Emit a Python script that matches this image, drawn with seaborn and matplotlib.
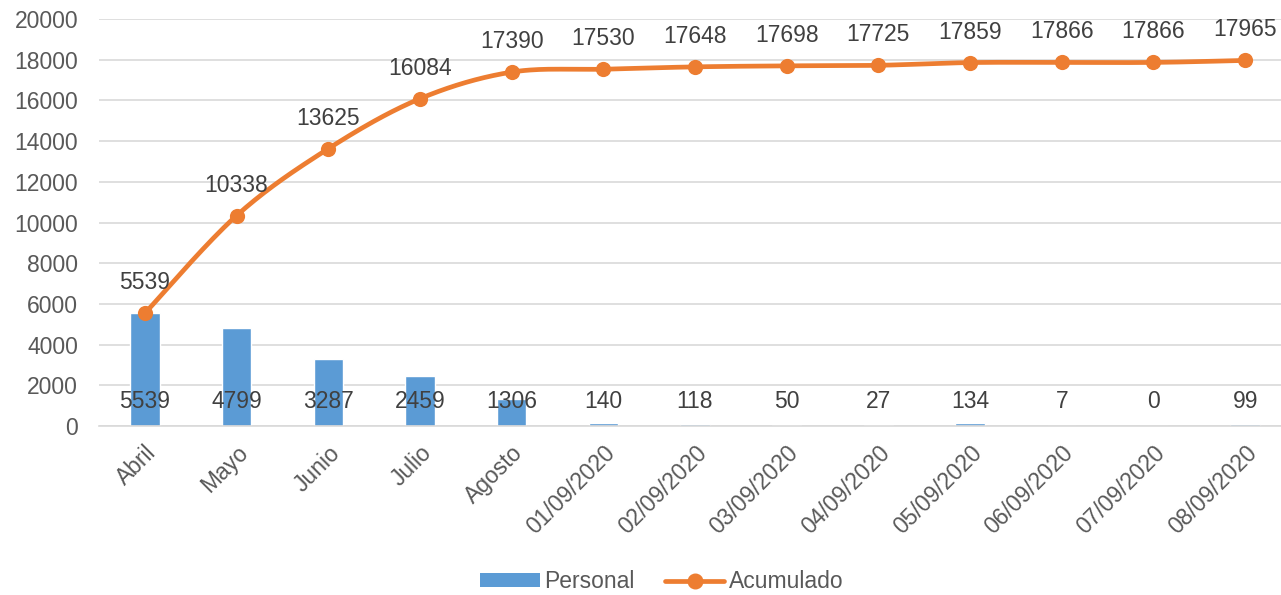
import numpy as np
import pandas as pd
import matplotlib
matplotlib.use("Agg")
import matplotlib.pyplot as plt
import seaborn as sns
from matplotlib.lines import Line2D
from matplotlib.patches import Patch

categories = ["Abril", "Mayo", "Junio", "Julio", "Agosto", "01/09/2020", "02/09/2020",
              "03/09/2020", "04/09/2020", "05/09/2020", "06/09/2020", "07/09/2020", "08/09/2020"]
personal = [5539, 4799, 3287, 2459, 1306, 140, 118, 50, 27, 134, 7, 0, 99]
acumulado = [5539, 10338, 13625, 16084, 17390, 17530, 17648, 17698, 17725, 17859, 17866, 17866, 17965]
yticks = list(range(0, 20001, 2000))

sns.set_theme(style="white")
plt.rcParams['font.family'] = ['Liberation Sans', 'DejaVu Sans']

BLUE = "#5b9bd5"
ORANGE = "#ed7d31"
TXT = "#595959"
LBL = "#404040"
GRID = "#d9d9d9"
FS = 16.5

fig = plt.figure(figsize=(12.81, 5.95), dpi=100)
ax = fig.add_axes([99/1281, 1 - 426/595, (1291 - 99)/1281, (426 - 19)/595])

df = pd.DataFrame({"cat": categories, "Personal": personal, "Acumulado": acumulado})
x = np.arange(len(categories))

sns.barplot(data=df, x="cat", y="Personal", color=BLUE, width=0.32, saturation=1, ax=ax, zorder=2)

# Smoothed line (Bezier through data points, like Excel's smoothed line)
xs, ys = [], []
px = np.array(x, dtype=float)
py = np.array(acumulado, dtype=float)
n = len(px)
for i in range(n - 1):
    p0 = (px[max(i - 1, 0)], py[max(i - 1, 0)])
    p1 = (px[i], py[i])
    p2 = (px[i + 1], py[i + 1])
    p3 = (px[min(i + 2, n - 1)], py[min(i + 2, n - 1)])
    t = 1 / 6
    c1 = (p1[0] + (p2[0] - p0[0]) * t, p1[1] + (p2[1] - p0[1]) * t)
    c2 = (p2[0] - (p3[0] - p1[0]) * t, p2[1] - (p3[1] - p1[1]) * t)
    for s in np.linspace(0, 1, 30, endpoint=(i == n - 2)):
        b0 = (1 - s) ** 3; b1 = 3 * (1 - s) ** 2 * s; b2 = 3 * (1 - s) * s ** 2; b3 = s ** 3
        xs.append(b0 * p1[0] + b1 * c1[0] + b2 * c2[0] + b3 * p2[0])
        ys.append(b0 * p1[1] + b1 * c1[1] + b2 * c2[1] + b3 * p2[1])
ax.plot(xs, ys, color=ORANGE, lw=3.4, zorder=3, solid_capstyle="round")
sns.scatterplot(x=x, y=acumulado, color=ORANGE, s=120, edgecolor=ORANGE, linewidth=0, ax=ax, zorder=4)

# Labels
for xi, v in zip(x, acumulado):
    ax.text(xi, v + 1500, f"{v}", ha="center", va="center", fontsize=FS, color=LBL, zorder=5)
for xi, v in zip(x, personal):
    ax.text(xi, 1220, f"{v}", ha="center", va="center", fontsize=FS, color=LBL, zorder=5)

ax.set_ylim(0, 20000)
ax.set_xlim(-0.5, len(categories) - 0.5)
ax.set_yticks(yticks)
ax.set_yticklabels([str(t) for t in yticks])
ax.set_xticks(x)
ax.set_xticklabels(categories, rotation=45, ha="right", rotation_mode="anchor")
ax.set_xlabel("")
ax.set_ylabel("")
ax.tick_params(axis="both", labelsize=FS, labelcolor=TXT, length=0)
ax.tick_params(axis="x", pad=11)
ax.tick_params(axis="y", pad=15)
ax.set_xticks(np.arange(-0.5, len(categories), 1), minor=True)
ax.tick_params(axis="x", which="minor", length=6, color=GRID, width=1.2, direction="out")
ax.yaxis.grid(True, color=GRID, lw=1.2, zorder=0)
ax.set_axisbelow(True)
for sp in ["top", "right", "left"]:
    ax.spines[sp].set_visible(False)
ax.spines["bottom"].set_color(GRID)
ax.spines["bottom"].set_linewidth(1.2)
ax.spines["bottom"].set_zorder(2.5)

handles = [Patch(facecolor=BLUE, edgecolor="none", label="Personal"),
           Line2D([0], [0], color=ORANGE, lw=3.4, marker="o", markersize=10.5, label="Acumulado")]
fig.legend(handles=handles, loc="center", bbox_to_anchor=(662/1281, 1 - 582/595), ncol=2,
           frameon=False, fontsize=FS, labelcolor=TXT, handlelength=2.6, handletextpad=0.2,
           columnspacing=1.3, handleheight=0.55)

fig.savefig("out.png", dpi=100)
